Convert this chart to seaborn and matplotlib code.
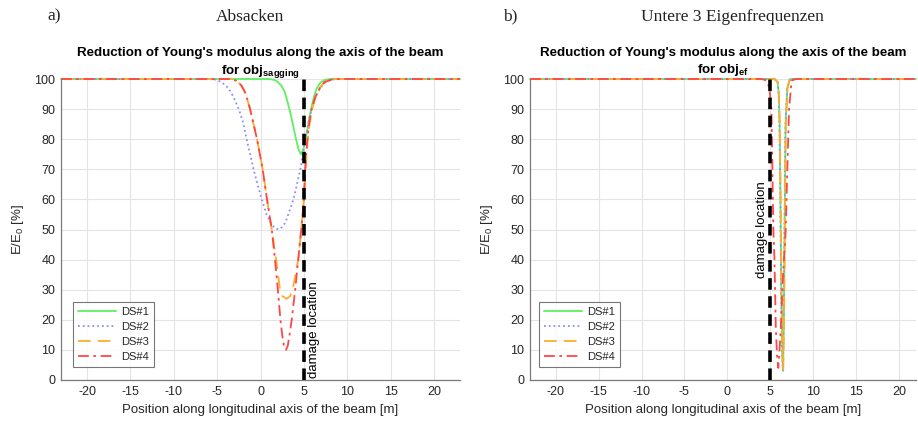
import numpy as np
import pandas as pd
import matplotlib
matplotlib.use("Agg")
import matplotlib.pyplot as plt
import seaborn as sns

# ---------------- data ----------------
series_names = ["DS#1", "DS#2", "DS#3", "DS#4"]

# panel a) sagging objective
a_ds1_x = [-23, 1.0, 1.6, 2.0, 2.4, 2.8, 3.2, 3.5, 3.8, 4.1, 4.4, 4.65, 4.9, 5.15, 5.4, 5.65, 5.9, 6.2, 6.5, 6.9, 7.4, 8.0, 23]
a_ds1_y = [100, 100, 99.7, 99, 97.8, 95.7, 91.5, 88, 84, 80, 76.5, 75, 76.3, 79, 83, 87.5, 91, 94.5, 97, 98.8, 99.7, 100, 100]

a_ds2_x = [-23, -6.0, -5.2, -4.5, -3.7, -3.1, -2.5, -2.0, -1.6, -1.2, -0.8, -0.3, 0.15, 0.7, 1.2, 1.6, 2.05, 2.5, 2.9, 3.2, 3.5, 3.8, 4.2, 4.6, 4.9, 5.15, 5.5, 5.9, 6.4, 6.9, 7.5, 8.2, 9.0, 23]
a_ds2_y = [100, 100, 99.8, 99, 97, 94, 90, 85.5, 80, 75, 70, 64.5, 60, 55, 52, 50.6, 50, 50.8, 52.5, 55, 57.5, 60, 65, 70, 75, 80, 85, 90, 94.5, 97, 99, 99.8, 100, 100]

a_ds3_x = [-23, -3.5, -3.2, -2.7, -2.2, -1.8, -1.5, -1.2, -0.8, -0.4, 0.25, 0.75, 1.3, 1.8, 2.25, 2.55, 3.0, 3.4, 3.7, 4.0, 4.35, 4.7, 5.0, 5.2, 5.45, 5.65, 5.95, 6.3, 6.6, 7.0, 7.4, 8.4, 23]
a_ds3_y = [100, 100, 99.9, 99.3, 97.8, 95.7, 93, 90, 85, 80, 70, 60, 50, 40, 30, 27.8, 27, 27.8, 30, 34.5, 40, 50, 60, 70, 80, 85, 90, 93.5, 95.7, 97.8, 99, 100, 100]

a_ds4_x = [-23, -3.5, -3.2, -2.7, -2.2, -1.8, -1.5, -1.2, -0.8, -0.4, 0.25, 0.75, 1.3, 1.67, 2.0, 2.3, 2.5, 2.7, 2.94, 3.15, 3.35, 3.6, 4.0, 4.35, 4.7, 5.0, 5.15, 5.4, 5.6, 5.9, 6.25, 6.6, 7.0, 7.4, 8.4, 23]
a_ds4_y = [100, 100, 99.9, 99.3, 97.8, 95.7, 93, 90, 85, 80, 70, 60, 50, 40, 30, 20, 15, 11.5, 10, 11.5, 15, 20, 30, 40, 50, 60, 70, 80, 85, 90, 93.5, 95.7, 97.8, 99, 100, 100]

# panel b) eigenfrequency objective
b_ds1_x = [-23, 5.5, 5.87, 6.0, 6.1, 6.2, 6.3, 6.42, 6.5, 6.6, 6.7, 6.8, 7.0, 7.3, 22]
b_ds1_y = [100, 100, 99, 95, 85, 60, 30, 8, 3, 20, 55, 85, 97, 100, 100]

b_ds2_x = [-23, 5.5, 5.85, 5.98, 6.08, 6.18, 6.28, 6.4, 6.48, 6.58, 6.68, 6.78, 6.98, 7.3, 22]
b_ds2_y = [100, 100, 99, 95, 85, 60, 30, 8, 3, 20, 55, 85, 97, 100, 100]

b_ds3_x = [-23, 5.5, 5.9, 6.02, 6.12, 6.22, 6.32, 6.44, 6.52, 6.62, 6.72, 6.82, 7.02, 7.3, 22]
b_ds3_y = [100, 100, 99, 95, 85, 60, 30, 8, 3.5, 20, 55, 85, 97, 100, 100]

b_ds4_x = [-23, 4.0, 4.6, 4.9, 5.15, 5.37, 5.5, 5.65, 5.8, 5.95, 6.2, 6.5, 6.8, 7.0, 7.2, 7.5, 8.0, 22]
b_ds4_y = [100, 100, 99.5, 97, 90, 50, 40, 18, 8, 4, 15, 35, 49, 70, 90, 99.5, 100, 100]

damage_location = 5
x_ticks = [-20, -15, -10, -5, 0, 5, 10, 15, 20]
y_ticks = [0, 10, 20, 30, 40, 50, 60, 70, 80, 90, 100]

# ---------------- style ----------------
sns.set_theme(style="white")
plt.rcParams["font.family"] = ["Liberation Sans", "DejaVu Sans"]
plt.rcParams["mathtext.fontset"] = "custom"
plt.rcParams["mathtext.rm"] = "Liberation Sans"
plt.rcParams["mathtext.bf"] = "Liberation Sans:bold"
plt.rcParams["mathtext.it"] = "Liberation Sans"
plt.rcParams["axes.unicode_minus"] = False

colors = {"DS#1": "#5ef05e", "DS#2": "#8c8cff", "DS#3": "#ffac2a", "DS#4": "#ff4646"}
styles = {"DS#1": "-", "DS#2": ":", "DS#3": (0, (7, 4)), "DS#4": (0, (6, 2.5, 1.5, 2.5))}

fig = plt.figure(figsize=(9.18, 4.21), dpi=100)
ax_a = fig.add_axes([61 / 918, 41 / 421, 399 / 918, 301 / 421])
ax_b = fig.add_axes([530 / 918, 41 / 421, 386 / 918, 301 / 421])

panels = [
    (ax_a, [(a_ds1_x, a_ds1_y), (a_ds2_x, a_ds2_y), (a_ds3_x, a_ds3_y), (a_ds4_x, a_ds4_y)],
     r"for obj$_\mathbf{sagging}$", (-23, 23), "right", 0.03),
    (ax_b, [(b_ds1_x, b_ds1_y), (b_ds2_x, b_ds2_y), (b_ds3_x, b_ds3_y), (b_ds4_x, b_ds4_y)],
     r"for obj$_\mathbf{ef}$", (-23, 22), "left", 0.024),
]

for ax, data, sub, xlim, side, legx in panels:
    frames = []
    for name, (xs, ys) in zip(series_names, data):
        frames.append(pd.DataFrame({"x": xs, "y": ys, "series": name}))
    df = pd.concat(frames, ignore_index=True)
    for name in series_names:
        sns.lineplot(data=df[df.series == name], x="x", y="y", ax=ax,
                     color=colors[name], linestyle=styles[name], linewidth=1.3,
                     label=name, sort=True, estimator=None, clip_on=False)
    ax.axvline(damage_location, ymin=0, ymax=1, color="black", linewidth=2.6,
               linestyle=(0, (3.2, 1.8)), zorder=5)
    if side == "right":
        ax.text(damage_location + 0.45, 0.8, "damage location", rotation=90,
                ha="left", va="bottom", fontsize=9.5, color="black")
    else:
        ax.text(damage_location - 1.0, 34, "damage location", rotation=90,
                ha="center", va="bottom", fontsize=9.5, color="black")

    ax.set_xlim(*xlim)
    ax.set_ylim(0, 100)
    ax.set_xticks(x_ticks)
    ax.set_yticks(y_ticks)
    ax.grid(True, color="#e4e4e4", linewidth=0.8)
    ax.set_axisbelow(True)
    for s in ["top", "right"]:
        ax.spines[s].set_visible(False)
    for s in ["left", "bottom"]:
        ax.spines[s].set_color("#7a7a7a")
        ax.spines[s].set_linewidth(0.9)
    ax.tick_params(axis="both", labelsize=9, colors="#7a7a7a", labelcolor="#262626",
                   direction="in", length=3, width=0.7, pad=4)
    ax.set_xlabel("Position along longitudinal axis of the beam [m]", fontsize=9.5,
                  color="#262626", labelpad=5)
    ax.set_ylabel(r"E/E$_0$ [%]", fontsize=9.5, color="#262626", labelpad=6)
    ax.set_title("Reduction of Young's modulus along the axis of the beam\n" + sub,
                 fontsize=9.6, fontweight="bold", color="black", pad=4, linespacing=1.3)
    leg = ax.legend(loc="lower left", bbox_to_anchor=(legx, 0.043), fontsize=8,
                    frameon=True, fancybox=False, edgecolor="#555555",
                    handlelength=3.4, borderpad=0.45, labelspacing=0.45,
                    handletextpad=0.5, borderaxespad=0)
    leg.get_frame().set_linewidth(0.8)
    for t in leg.get_texts():
        t.set_color("#262626")

# headings above panels
fig.text(47 / 918, 1 - 16 / 421, "a)", fontsize=12.5, family="Liberation Serif",
         ha="left", va="center", color="#222222")
fig.text(250 / 918, 1 - 17 / 421, "Absacken", fontsize=12.5, family="Liberation Serif",
         ha="center", va="center", color="#222222")
fig.text(503 / 918, 1 - 16 / 421, "b)", fontsize=12.5, family="Liberation Serif",
         ha="left", va="center", color="#222222")
fig.text(732 / 918, 1 - 17 / 421, "Untere 3 Eigenfrequenzen", fontsize=12.5,
         family="Liberation Serif", ha="center", va="center", color="#222222")

fig.savefig("out.png", dpi=100, facecolor="white")
